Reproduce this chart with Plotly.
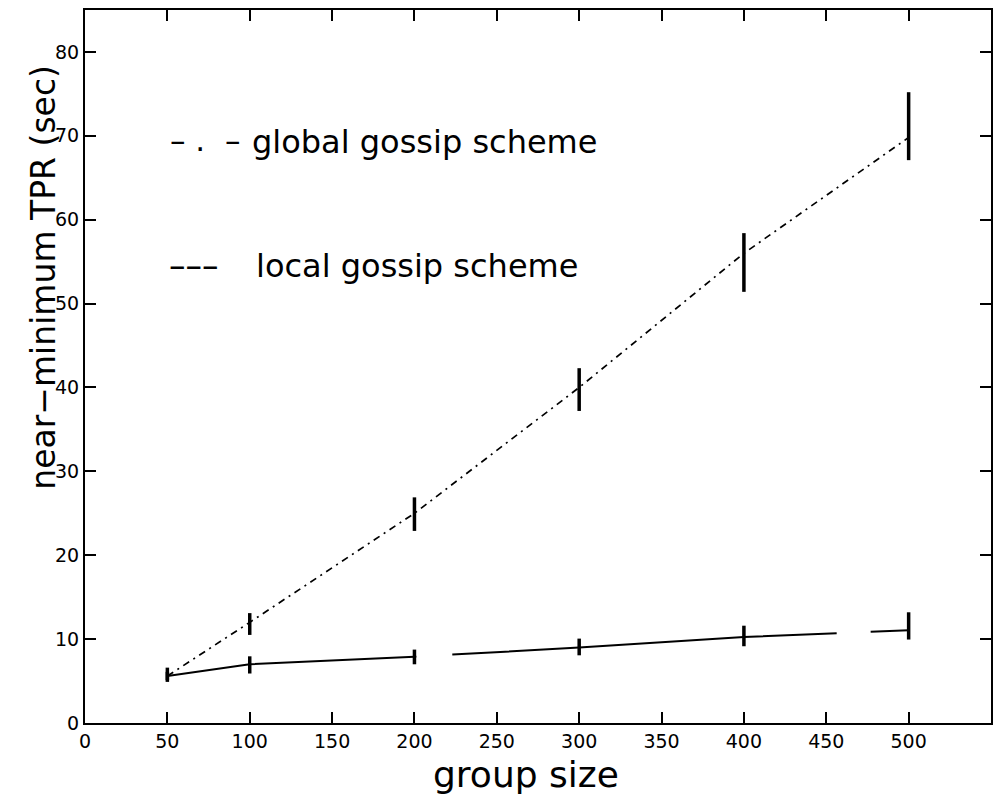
import plotly.graph_objects as go

# Group sizes used in the experiment
group_size = [50, 100, 200, 300, 400, 500]

# Near-minimum TPR (sec), mean and asymmetric spread, global gossip scheme
global_tpr = [5.6, 12.0, 25.0, 40.0, 56.0, 69.8]
global_err_up = [0.5, 1.1, 1.9, 2.3, 2.4, 5.4]
global_err_down = [0.5, 1.5, 2.1, 2.8, 4.6, 2.7]

# Near-minimum TPR (sec), local gossip scheme
local_tpr = [5.6, 7.0, 7.9, 9.0, 10.25, 11.05]
local_err_up = [1.0, 0.95, 0.85, 1.06, 1.35, 2.15]
local_err_down = [0.7, 1.1, 0.9, 0.93, 1.1, 1.1]

x_ticks = [0, 50, 100, 150, 200, 250, 300, 350, 400, 450, 500]
y_ticks = [0, 10, 20, 30, 40, 50, 60, 70, 80]

FONT = "DejaVu Sans"

fig = go.Figure()

fig.add_trace(go.Scatter(
    x=group_size, y=global_tpr, mode="lines",
    line=dict(color="black", width=1.7, dash="7px,5px,2px,5px"),
    error_y=dict(type="data", symmetric=False, array=global_err_up,
                 arrayminus=global_err_down, color="black",
                 thickness=3.5, width=0),
    showlegend=False,
))

fig.add_trace(go.Scatter(
    x=group_size, y=local_tpr, mode="lines",
    line=dict(color="black", width=2, dash="250px,36px,385px,34px"),
    error_y=dict(type="data", symmetric=False, array=local_err_up,
                 arrayminus=local_err_down, color="black",
                 thickness=3.5, width=0),
    showlegend=False,
))

axis_common = dict(
    showline=True, linewidth=2, linecolor="black", mirror="ticks",
    ticks="inside", ticklen=11, tickwidth=2, tickcolor="black",
    showgrid=False, zeroline=False,
    tickfont=dict(family=FONT, size=19, color="black"),
)

fig.update_xaxes(range=[0, 550], tickvals=x_ticks, **axis_common)
fig.update_yaxes(range=[0, 85], tickvals=y_ticks, **axis_common)

# Plot area spans pixels x 85..993, y 9..723
def px(xp):
    return (xp - 85) / 908.0

def py(yp):
    return (723 - yp) / 714.0

annotations = [
    dict(text="near\u2212minimum TPR (sec)", textangle=-90,
         x=px(44), y=py(277), xanchor="center", yanchor="middle",
         font=dict(family=FONT, size=33, color="black")),
    dict(text="group size", x=px(527), y=py(775),
         xanchor="center", yanchor="middle",
         font=dict(family=FONT, size=36, color="black")),
    dict(text="\u2013 .  \u2013", x=px(168), y=py(139),
         xanchor="left", yanchor="middle",
         font=dict(family=FONT, size=31, color="black")),
    dict(text="global gossip scheme", x=px(250), y=py(141),
         xanchor="left", yanchor="middle",
         font=dict(family=FONT, size=32, color="black")),
    dict(text="\u2013\u2013\u2013", x=px(167), y=py(265),
         xanchor="left", yanchor="middle",
         font=dict(family=FONT, size=33, color="black")),
    dict(text="local gossip scheme", x=px(254), y=py(265),
         xanchor="left", yanchor="middle",
         font=dict(family=FONT, size=32, color="black")),
]
for a in annotations:
    a.update(xref="paper", yref="paper", showarrow=False)

fig.update_layout(
    width=1001, height=801, autosize=False,
    margin=dict(l=85, r=8, t=9, b=78, pad=0),
    paper_bgcolor="white", plot_bgcolor="white",
    annotations=annotations,
)

fig.write_html("out.html")
